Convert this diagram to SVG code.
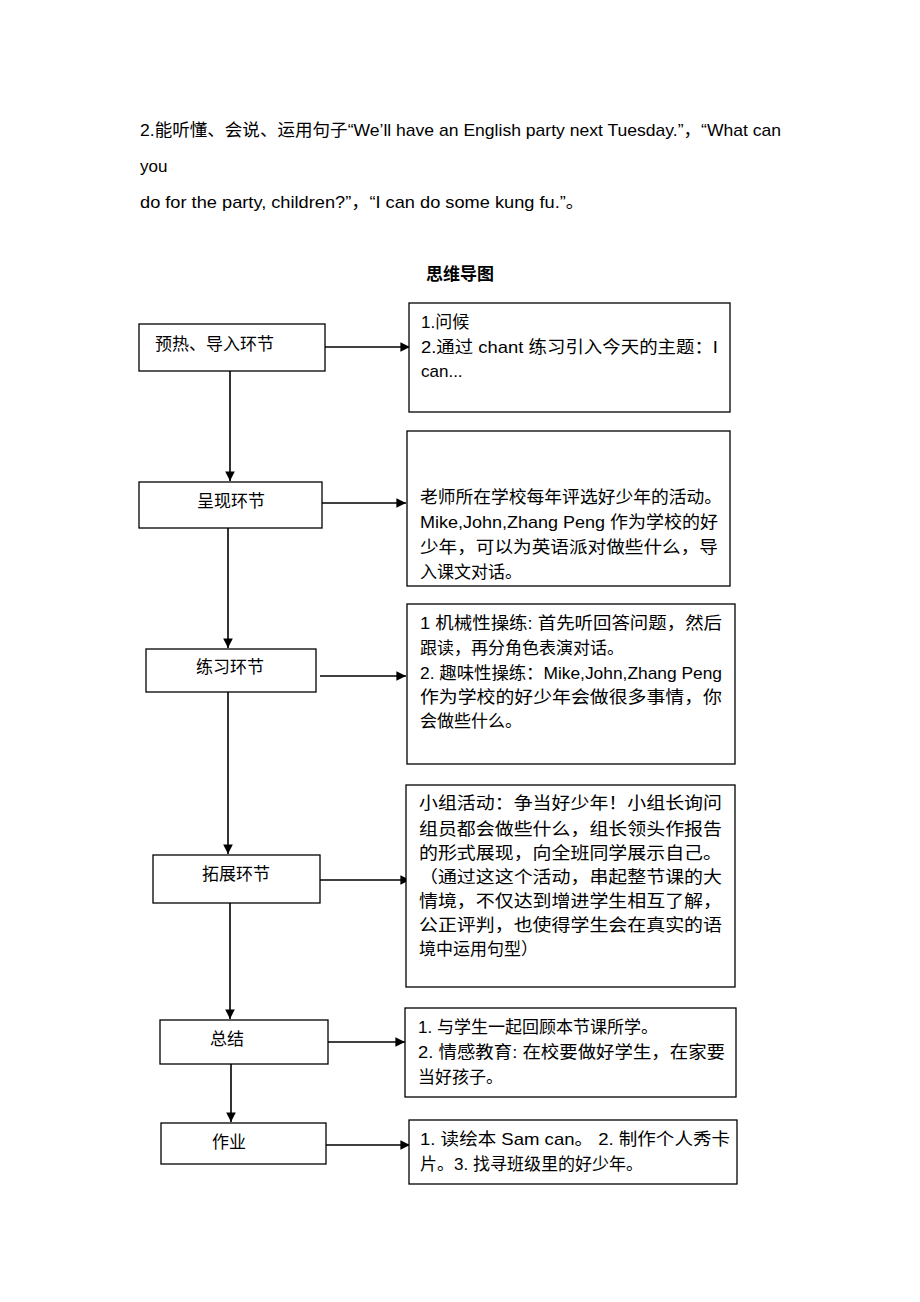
<svg xmlns="http://www.w3.org/2000/svg" width="920" height="1302" viewBox="0 0 920 1302">
<style>
.t{font-family:"Liberation Sans","Noto Sans CJK SC",sans-serif;font-size:17px;fill:#000}
.b{fill:#fff;stroke:#000;stroke-width:1.3}
.c{stroke:#000;stroke-width:1.6;fill:none;marker-end:url(#ah)}
</style>
<defs>
<marker id="ah" viewBox="0 0 10 10" refX="10" refY="5" markerWidth="7" markerHeight="6" markerUnits="strokeWidth" orient="auto"><path d="M0,0 L10,5 L0,10 z" fill="#000"/></marker>
</defs>
<rect width="920" height="1302" fill="#fff"/>
<g id="intro">
<text class="t" x="140" y="136" textLength="641" lengthAdjust="spacingAndGlyphs">2.能听懂、会说、运用句子“We’ll have an English party next Tuesday.”，“What can</text>
<text class="t" x="140" y="172">you</text>
<text class="t" x="140" y="208" textLength="444" lengthAdjust="spacingAndGlyphs">do for the party, children?”，“I can do some kung fu.”。</text>
<text class="t" x="460" y="280" text-anchor="middle" font-weight="bold">思维导图</text>
</g>
<g id="connectors">
<line class="c" x1="230" y1="371" x2="230" y2="481"/>
<line class="c" x1="228" y1="528" x2="228" y2="648"/>
<line class="c" x1="228" y1="692" x2="228" y2="854"/>
<line class="c" x1="230" y1="903" x2="230" y2="1019"/>
<line class="c" x1="231" y1="1064" x2="231" y2="1122"/>
<line class="c" x1="325" y1="347" x2="410" y2="347"/>
<line class="c" x1="322" y1="503" x2="406" y2="503"/>
<line class="c" x1="320" y1="676" x2="406" y2="676"/>
<line class="c" x1="320" y1="880" x2="410" y2="880"/>
<line class="c" x1="328" y1="1042" x2="405" y2="1042"/>
<line class="c" x1="326" y1="1145" x2="410" y2="1145"/>
</g>
<g id="n1"><rect class="b" x="139" y="324" width="186" height="47"/><text class="t" x="155" y="350">预热、导入环节</text></g>
<g id="n2"><rect class="b" x="139" y="482" width="183" height="46"/><text class="t" x="231" y="507" text-anchor="middle">呈现环节</text></g>
<g id="n3"><rect class="b" x="146" y="649" width="170" height="43"/><text class="t" x="230" y="673" text-anchor="middle">练习环节</text></g>
<g id="n4"><rect class="b" x="153" y="855" width="167" height="48"/><text class="t" x="236" y="880" text-anchor="middle">拓展环节</text></g>
<g id="n5"><rect class="b" x="160" y="1020" width="168" height="44"/><text class="t" x="227" y="1045" text-anchor="middle">总结</text></g>
<g id="n6"><rect class="b" x="161" y="1123" width="165" height="41"/><text class="t" x="229" y="1148" text-anchor="middle">作业</text></g>
<g id="d1"><rect class="b" x="409" y="303" width="321" height="109"/>
<text class="t" x="421" y="328">1.问候</text>
<text class="t" x="421" y="353" textLength="297" lengthAdjust="spacingAndGlyphs">2.通过 chant 练习引入今天的主题：I</text>
<text class="t" x="421" y="377">can...</text></g>
<g id="d2"><rect class="b" x="407" y="431" width="323" height="155"/>
<text class="t" x="420" y="503" textLength="302" lengthAdjust="spacingAndGlyphs">老师所在学校每年评选好少年的活动。</text>
<text class="t" x="420" y="528" textLength="298" lengthAdjust="spacingAndGlyphs">Mike,John,Zhang Peng 作为学校的好</text>
<text class="t" x="420" y="553" textLength="298" lengthAdjust="spacingAndGlyphs">少年，可以为英语派对做些什么，导</text>
<text class="t" x="420" y="578">入课文对话。</text></g>
<g id="d3"><rect class="b" x="407" y="604" width="328" height="160"/>
<text class="t" x="420" y="629" textLength="302" lengthAdjust="spacingAndGlyphs">1 机械性操练: 首先听回答问题，然后</text>
<text class="t" x="420" y="654">跟读，再分角色表演对话。</text>
<text class="t" x="420" y="679" textLength="302" lengthAdjust="spacingAndGlyphs">2.  趣味性操练：Mike,John,Zhang Peng</text>
<text class="t" x="420" y="703" textLength="302" lengthAdjust="spacingAndGlyphs">作为学校的好少年会做很多事情，你</text>
<text class="t" x="420" y="727">会做些什么。</text></g>
<g id="d4"><rect class="b" x="406" y="785" width="329" height="202"/>
<text class="t" x="419" y="809" textLength="303" lengthAdjust="spacingAndGlyphs">小组活动：争当好少年！小组长询问</text>
<text class="t" x="419" y="835" textLength="303" lengthAdjust="spacingAndGlyphs">组员都会做些什么，组长领头作报告</text>
<text class="t" x="419" y="859" textLength="303" lengthAdjust="spacingAndGlyphs">的形式展现，向全班同学展示自己。</text>
<text class="t" x="419" y="883" textLength="303" lengthAdjust="spacingAndGlyphs">（通过这这个活动，串起整节课的大</text>
<text class="t" x="419" y="907" textLength="303" lengthAdjust="spacingAndGlyphs">情境，不仅达到增进学生相互了解，</text>
<text class="t" x="419" y="931" textLength="303" lengthAdjust="spacingAndGlyphs">公正评判，也使得学生会在真实的语</text>
<text class="t" x="419" y="955">境中运用句型）</text></g>
<g id="d5"><rect class="b" x="405" y="1008" width="331" height="89"/>
<text class="t" x="418" y="1033">1. 与学生一起回顾本节课所学。</text>
<text class="t" x="418" y="1058" textLength="307" lengthAdjust="spacingAndGlyphs">2. 情感教育: 在校要做好学生，在家要</text>
<text class="t" x="418" y="1083">当好孩子。</text></g>
<g id="d6"><rect class="b" x="409" y="1120" width="328" height="64"/>
<text class="t" x="420" y="1145" textLength="310" lengthAdjust="spacingAndGlyphs">1. 读绘本 Sam can。   2. 制作个人秀卡</text>
<text class="t" x="420" y="1170">片。3. 找寻班级里的好少年。</text></g>
</svg>
